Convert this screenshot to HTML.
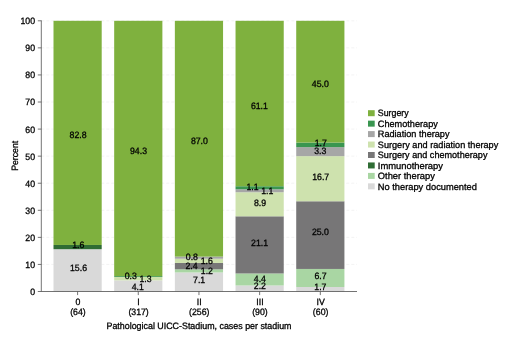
<!DOCTYPE html>
<html><head><meta charset="utf-8"><title>Therapy by UICC stadium</title>
<style>
html,body{margin:0;padding:0;background:#fff;}
body{width:520px;height:345px;overflow:hidden;}
svg{display:block;}
text{font-family:"Liberation Sans",sans-serif;font-size:9.25px;fill:#000;stroke:#000;stroke-width:0.3px;text-rendering:geometricPrecision;}
</style></head><body>
<svg width="520" height="345" viewBox="0 0 520 345">
<defs><filter id="soft" x="0" y="0" width="520" height="345" filterUnits="userSpaceOnUse" color-interpolation-filters="sRGB"><feGaussianBlur stdDeviation="0.3"/></filter></defs>
<rect width="520" height="345" fill="#ffffff"/>
<g stroke="#f0f0f0" stroke-width="0.8" stroke-dasharray="3 2">
<line x1="41.3" y1="291.50" x2="357.0" y2="291.50"/>
<line x1="41.3" y1="264.43" x2="357.0" y2="264.43"/>
<line x1="41.3" y1="237.36" x2="357.0" y2="237.36"/>
<line x1="41.3" y1="210.29" x2="357.0" y2="210.29"/>
<line x1="41.3" y1="183.22" x2="357.0" y2="183.22"/>
<line x1="41.3" y1="156.15" x2="357.0" y2="156.15"/>
<line x1="41.3" y1="129.08" x2="357.0" y2="129.08"/>
<line x1="41.3" y1="102.01" x2="357.0" y2="102.01"/>
<line x1="41.3" y1="74.94" x2="357.0" y2="74.94"/>
<line x1="41.3" y1="47.87" x2="357.0" y2="47.87"/>
<line x1="41.3" y1="20.80" x2="357.0" y2="20.80"/>
</g>
<g>
<rect x="53.50" y="249.20" width="48.20" height="42.30" fill="#d9d9d9"/>
<rect x="53.50" y="244.97" width="48.20" height="4.23" fill="#2f6c34"/>
<rect x="53.50" y="20.80" width="48.20" height="224.17" fill="#7fb13e"/>
<rect x="114.18" y="280.40" width="48.20" height="11.10" fill="#d9d9d9"/>
<rect x="114.18" y="276.98" width="48.20" height="3.42" fill="#cee2ae"/>
<rect x="114.18" y="276.13" width="48.20" height="0.85" fill="#3a9650"/>
<rect x="114.18" y="20.80" width="48.20" height="255.33" fill="#7fb13e"/>
<rect x="174.86" y="272.47" width="48.20" height="19.03" fill="#d9d9d9"/>
<rect x="174.86" y="269.29" width="48.20" height="3.17" fill="#a9d6a3"/>
<rect x="174.86" y="262.95" width="48.20" height="6.34" fill="#777677"/>
<rect x="174.86" y="258.72" width="48.20" height="4.23" fill="#cee2ae"/>
<rect x="174.86" y="256.61" width="48.20" height="2.11" fill="#a6a6a6"/>
<rect x="174.86" y="20.80" width="48.20" height="235.81" fill="#7fb13e"/>
<rect x="235.54" y="285.48" width="48.20" height="6.02" fill="#d9d9d9"/>
<rect x="235.54" y="273.45" width="48.20" height="12.03" fill="#a9d6a3"/>
<rect x="235.54" y="216.31" width="48.20" height="57.15" fill="#777677"/>
<rect x="235.54" y="192.24" width="48.20" height="24.06" fill="#cee2ae"/>
<rect x="235.54" y="189.24" width="48.20" height="3.01" fill="#a6a6a6"/>
<rect x="235.54" y="186.23" width="48.20" height="3.01" fill="#3a9650"/>
<rect x="235.54" y="20.80" width="48.20" height="165.43" fill="#7fb13e"/>
<rect x="296.22" y="286.99" width="48.20" height="4.51" fill="#d9d9d9"/>
<rect x="296.22" y="268.94" width="48.20" height="18.05" fill="#a9d6a3"/>
<rect x="296.22" y="201.27" width="48.20" height="67.68" fill="#777677"/>
<rect x="296.22" y="156.15" width="48.20" height="45.12" fill="#cee2ae"/>
<rect x="296.22" y="147.13" width="48.20" height="9.02" fill="#a6a6a6"/>
<rect x="296.22" y="142.62" width="48.20" height="4.51" fill="#3a9650"/>
<rect x="296.22" y="20.80" width="48.20" height="121.81" fill="#7fb13e"/>
</g>
<g stroke="#505050" stroke-width="0.8" fill="none">
<line x1="41.3" y1="20.40" x2="41.3" y2="291.90"/>
<line x1="41.3" y1="291.50" x2="357.0" y2="291.50"/>
<line x1="37.8" y1="291.50" x2="41.3" y2="291.50"/>
<line x1="37.8" y1="264.43" x2="41.3" y2="264.43"/>
<line x1="37.8" y1="237.36" x2="41.3" y2="237.36"/>
<line x1="37.8" y1="210.29" x2="41.3" y2="210.29"/>
<line x1="37.8" y1="183.22" x2="41.3" y2="183.22"/>
<line x1="37.8" y1="156.15" x2="41.3" y2="156.15"/>
<line x1="37.8" y1="129.08" x2="41.3" y2="129.08"/>
<line x1="37.8" y1="102.01" x2="41.3" y2="102.01"/>
<line x1="37.8" y1="74.94" x2="41.3" y2="74.94"/>
<line x1="37.8" y1="47.87" x2="41.3" y2="47.87"/>
<line x1="37.8" y1="20.80" x2="41.3" y2="20.80"/>
<line x1="77.60" y1="291.50" x2="77.60" y2="295.10"/>
<line x1="138.28" y1="291.50" x2="138.28" y2="295.10"/>
<line x1="198.96" y1="291.50" x2="198.96" y2="295.10"/>
<line x1="259.64" y1="291.50" x2="259.64" y2="295.10"/>
<line x1="320.32" y1="291.50" x2="320.32" y2="295.10"/>
</g>
<rect x="368.0" y="110.20" width="6.7" height="6" fill="#7fb13e"/>
<rect x="368.0" y="120.65" width="6.7" height="6" fill="#3a9650"/>
<rect x="368.0" y="131.10" width="6.7" height="6" fill="#a6a6a6"/>
<rect x="368.0" y="141.55" width="6.7" height="6" fill="#cee2ae"/>
<rect x="368.0" y="152.00" width="6.7" height="6" fill="#777677"/>
<rect x="368.0" y="162.45" width="6.7" height="6" fill="#2f6c34"/>
<rect x="368.0" y="172.90" width="6.7" height="6" fill="#a9d6a3"/>
<rect x="368.0" y="183.35" width="6.7" height="6" fill="#d9d9d9"/>
<g filter="url(#soft)">
<text transform="translate(377.80,116.41) scale(0.945,1)" textLength="32.7" lengthAdjust="spacingAndGlyphs">Surgery</text>
<text transform="translate(377.80,126.86) scale(0.945,1)" textLength="63.5" lengthAdjust="spacingAndGlyphs">Chemotherapy</text>
<text transform="translate(377.80,137.31) scale(0.945,1)" textLength="75.9" lengthAdjust="spacingAndGlyphs">Radiation therapy</text>
<text transform="translate(377.80,147.76) scale(0.945,1)" textLength="127.5" lengthAdjust="spacingAndGlyphs">Surgery and radiation therapy</text>
<text transform="translate(377.80,158.21) scale(0.945,1)" textLength="116.0" lengthAdjust="spacingAndGlyphs">Surgery and chemotherapy</text>
<text transform="translate(377.80,168.66) scale(0.945,1)" textLength="69.0" lengthAdjust="spacingAndGlyphs">Immunotherapy</text>
<text transform="translate(377.80,179.11) scale(0.945,1)" textLength="60.4" lengthAdjust="spacingAndGlyphs">Other therapy</text>
<text transform="translate(377.80,189.56) scale(0.945,1)" textLength="104.9" lengthAdjust="spacingAndGlyphs">No therapy documented</text>
<text transform="translate(35.10,294.96) scale(0.945,1)" text-anchor="end">0</text>
<text transform="translate(35.10,267.89) scale(0.945,1)" text-anchor="end">10</text>
<text transform="translate(35.10,240.82) scale(0.945,1)" text-anchor="end">20</text>
<text transform="translate(35.10,213.75) scale(0.945,1)" text-anchor="end">30</text>
<text transform="translate(35.10,186.68) scale(0.945,1)" text-anchor="end">40</text>
<text transform="translate(35.10,159.61) scale(0.945,1)" text-anchor="end">50</text>
<text transform="translate(35.10,132.54) scale(0.945,1)" text-anchor="end">60</text>
<text transform="translate(35.10,105.47) scale(0.945,1)" text-anchor="end">70</text>
<text transform="translate(35.10,78.40) scale(0.945,1)" text-anchor="end">80</text>
<text transform="translate(35.10,51.33) scale(0.945,1)" text-anchor="end">90</text>
<text transform="translate(35.10,24.26) scale(0.945,1)" text-anchor="end">100</text>
<text transform="translate(18.20,155.80) rotate(-90) scale(0.945,1)" text-anchor="middle">Percent</text>
<text transform="translate(77.90,304.60) scale(0.945,1)" text-anchor="middle">0</text>
<text transform="translate(77.90,315.20) scale(0.945,1)" text-anchor="middle">(64)</text>
<text transform="translate(138.58,304.60) scale(0.945,1)" text-anchor="middle">I</text>
<text transform="translate(138.58,315.20) scale(0.945,1)" text-anchor="middle">(317)</text>
<text transform="translate(199.26,304.60) scale(0.945,1)" text-anchor="middle">II</text>
<text transform="translate(199.26,315.20) scale(0.945,1)" text-anchor="middle">(256)</text>
<text transform="translate(259.94,304.60) scale(0.945,1)" text-anchor="middle">III</text>
<text transform="translate(259.94,315.20) scale(0.945,1)" text-anchor="middle">(90)</text>
<text transform="translate(320.62,304.60) scale(0.945,1)" text-anchor="middle">IV</text>
<text transform="translate(320.62,315.20) scale(0.945,1)" text-anchor="middle">(60)</text>
<text transform="translate(199.00,329.30) scale(0.945,1)" text-anchor="middle" textLength="195.8" lengthAdjust="spacingAndGlyphs">Pathological UICC-Stadium, cases per stadium</text>
<text transform="translate(78.10,138.16) scale(0.945,1)" text-anchor="middle">82.8</text>
<text transform="translate(78.20,248.11) scale(0.945,1)" text-anchor="middle">1.6</text>
<text transform="translate(78.50,271.01) scale(0.945,1)" text-anchor="middle">15.6</text>
<text transform="translate(138.50,153.81) scale(0.945,1)" text-anchor="middle">94.3</text>
<text transform="translate(130.80,279.11) scale(0.945,1)" text-anchor="middle">0.3</text>
<text transform="translate(145.50,281.91) scale(0.945,1)" text-anchor="middle">1.3</text>
<text transform="translate(137.70,289.61) scale(0.945,1)" text-anchor="middle">4.1</text>
<text transform="translate(199.40,143.81) scale(0.945,1)" text-anchor="middle">87.0</text>
<text transform="translate(191.90,260.01) scale(0.945,1)" text-anchor="middle">0.8</text>
<text transform="translate(206.70,264.21) scale(0.945,1)" text-anchor="middle">1.6</text>
<text transform="translate(191.50,268.51) scale(0.945,1)" text-anchor="middle">2.4</text>
<text transform="translate(206.90,274.11) scale(0.945,1)" text-anchor="middle">1.2</text>
<text transform="translate(199.10,282.91) scale(0.945,1)" text-anchor="middle">7.1</text>
<text transform="translate(259.40,108.71) scale(0.945,1)" text-anchor="middle">61.1</text>
<text transform="translate(252.50,189.81) scale(0.945,1)" text-anchor="middle">1.1</text>
<text transform="translate(267.30,194.31) scale(0.945,1)" text-anchor="middle">1.1</text>
<text transform="translate(260.00,206.11) scale(0.945,1)" text-anchor="middle">8.9</text>
<text transform="translate(259.60,246.41) scale(0.945,1)" text-anchor="middle">21.1</text>
<text transform="translate(259.90,281.51) scale(0.945,1)" text-anchor="middle">4.4</text>
<text transform="translate(259.90,289.41) scale(0.945,1)" text-anchor="middle">2.2</text>
<text transform="translate(320.30,87.41) scale(0.945,1)" text-anchor="middle">45.0</text>
<text transform="translate(320.70,146.31) scale(0.945,1)" text-anchor="middle">1.7</text>
<text transform="translate(320.30,154.41) scale(0.945,1)" text-anchor="middle">3.3</text>
<text transform="translate(320.70,179.61) scale(0.945,1)" text-anchor="middle">16.7</text>
<text transform="translate(320.40,235.31) scale(0.945,1)" text-anchor="middle">25.0</text>
<text transform="translate(320.50,279.11) scale(0.945,1)" text-anchor="middle">6.7</text>
<text transform="translate(320.40,290.31) scale(0.945,1)" text-anchor="middle">1.7</text>
</g>
</svg>
</body></html>
